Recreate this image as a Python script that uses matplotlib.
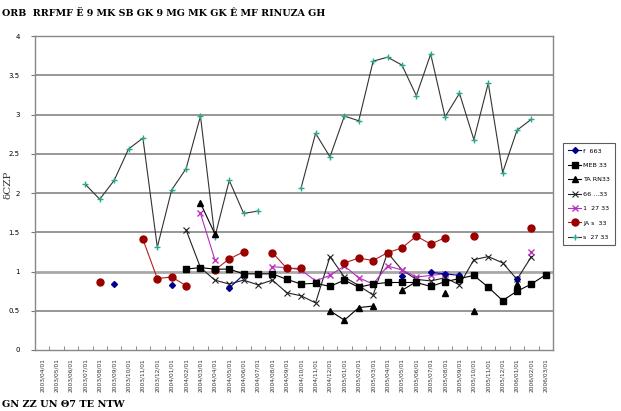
import numpy as np
import matplotlib
matplotlib.use('Agg')
import matplotlib.pyplot as plt

nan = np.nan

# category labels (vertical, one per column)
x_labels = ['%04d/%02d/01' % (2003 + (m + 3) // 12, (m + 3) % 12 + 1) for m in range(36)]

title = 'ORB  RRFMF Ë 9 MK SB GK 9 MG MK GK Ê MF RINUZA GH'
y_title = 'δCZP'
note = 'GN ZZ UN Θ7 TE NTW'

labels = ['f  663', 'MEB 33', 'TA RN33', '66 ...33', '1  27 33', 'JA s  33', 's  27 33']

s_diamond = [nan, nan, nan, nan, nan, 0.84, nan, nan, nan, 0.83, nan, nan, nan, 0.79, 0.96, nan,
             nan, nan, nan, nan, nan, nan, nan, nan, nan, 0.94, nan, 0.99, 0.97, 0.95, nan, nan,
             nan, 0.90, nan, nan]
s_square = [nan, nan, nan, nan, nan, nan, nan, nan, nan, nan, 1.03, 1.05, 1.03, 1.03, 0.97, 0.97,
            0.97, 0.90, 0.84, 0.85, 0.81, 0.89, 0.80, 0.84, 0.86, 0.86, 0.86, 0.81, 0.87, 0.91, 0.95, 0.80,
            0.63, 0.75, 0.84, 0.96]
s_triangle = [nan, nan, nan, nan, nan, nan, nan, nan, nan, nan, nan, 1.87, 1.48, nan, nan, nan,
              nan, nan, nan, nan, 0.50, 0.38, 0.54, 0.56, nan, 0.76, 0.87, nan, 0.72, nan, 0.50, nan,
              nan, 0.84, nan, nan]
s_cross = [nan, nan, nan, nan, nan, nan, nan, nan, nan, nan, 1.53, 1.05, 0.89, 0.84, 0.89, 0.83,
           0.89, 0.73, 0.69, 0.60, 1.19, 0.93, 0.82, 0.70, 1.24, 1.02, 0.90, 0.88, 0.92, 0.83, 1.15, 1.19,
           1.11, 0.90, 1.19, nan]
s_magenta = [nan, nan, nan, nan, nan, nan, nan, nan, nan, nan, nan, 1.74, 1.15, nan, nan, nan,
             1.06, 1.05, 1.02, 0.88, 0.95, 1.07, 0.92, 0.84, 1.07, 1.02, 0.93, 0.95, 0.97, nan, nan, nan,
             nan, nan, 1.25, nan]
s_red = [nan, nan, nan, nan, 0.87, nan, nan, 1.41, 0.91, 0.93, 0.82, nan, 1.02, 1.16, 1.25, nan,
         1.24, 1.04, 1.04, nan, nan, 1.11, 1.17, 1.14, 1.24, 1.30, 1.45, 1.35, 1.43, nan, 1.45, nan,
         nan, nan, 1.55, nan]
s_teal = [nan, nan, nan, 2.11, 1.92, 2.16, 2.56, 2.70, 1.31, 2.04, 2.31, 2.98, 1.44, 2.16, 1.74, 1.77,
          nan, nan, 2.07, 2.76, 2.46, 2.98, 2.92, 3.68, 3.73, 3.63, 3.24, 3.77, 2.97, 3.27, 2.68, 3.40,
          2.26, 2.80, 2.94, nan]

x = np.arange(len(x_labels))

fig = plt.figure(figsize=(6.21, 4.11), dpi=100)
ax = fig.add_axes([35/621, 1-350/411, 518/621, 314/411])

for v in np.arange(0.5, 4.0, 0.5):
    if v == 1.0:
        ax.axhline(v, color='#a8a8a8', lw=2.0, zorder=1)
    else:
        ax.axhline(v, color='#7a7a7a', lw=1.1, zorder=1)

ax.plot(x, s_diamond, color='#00008b', lw=0.8, marker='D', ms=3, label=labels[0], zorder=4)
ax.plot(x, s_square, color='black', lw=0.8, marker='s', ms=5, label=labels[1], zorder=4)
ax.plot(x, s_triangle, color='black', lw=0.8, marker='^', ms=5, label=labels[2], zorder=4)
ax.plot(x, s_cross, color='#222222', lw=0.8, marker='x', ms=4, mew=0.8, label=labels[3], zorder=3)
ax.plot(x, s_magenta, color='#b030c0', lw=0.8, marker='x', ms=4, mew=1.0, mec='#c030c0', label=labels[4], zorder=3)
ax.plot(x, s_red, color='#b02020', lw=0.8, marker='o', ms=5, mfc='#990000', mec='#990000', label=labels[5], zorder=3)
ax.plot(x, s_teal, color='#333333', lw=0.8, marker='+', ms=5, mew=1.0, mec='#2aa88f', label=labels[6], zorder=3)

ax.set_xlim(-0.5, len(x) - 0.5)
ax.set_ylim(0, 4)
ax.set_yticks(np.arange(0, 4.01, 0.5))
ax.set_yticklabels(['0', '0.5', '1', '1.5', '2', '2.5', '3', '3.5', '4'], fontsize=5)
ax.tick_params(axis='y', direction='out', length=3, color='#777777', pad=8)

ax.set_xticks(x)
ax.set_xticklabels(x_labels, rotation=90, fontsize=4.2, color='#333333')
ax.set_xticks(np.arange(-0.5, len(x), 1), minor=True)
ax.tick_params(axis='x', which='major', length=0, pad=6)
ax.tick_params(axis='x', which='minor', direction='in', length=3, color='#777777')

for sp in ax.spines.values():
    sp.set_color('#888888')
    sp.set_linewidth(1.0)

fig.text(8/621, 1-185/411, y_title, rotation=90, fontsize=7.5, family='DejaVu Serif',
         ha='center', va='center', color='#333333')
fig.text(2/621, 1-13/411, title, fontsize=6.8, weight='bold', family='DejaVu Serif',
         ha='left', va='center')
fig.text(2/621, 1-404/411, note, fontsize=7, weight='bold', family='DejaVu Serif',
         ha='left', va='center')

leg = ax.legend(loc='upper left', bbox_to_anchor=(563/621, 1-143/411),
                bbox_transform=fig.transFigure, fontsize=4.6, frameon=True,
                fancybox=False, edgecolor='#333333', handlelength=2.0,
                labelspacing=1.4, borderpad=0.8, handletextpad=0.4, borderaxespad=0)
leg.get_frame().set_linewidth(0.8)

fig.savefig('out.png', dpi=100)
